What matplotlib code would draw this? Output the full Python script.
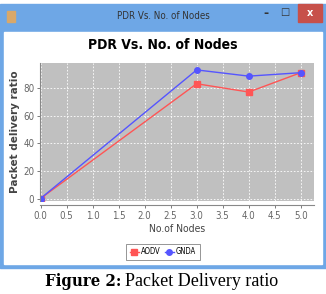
import matplotlib
matplotlib.use("Agg")
import matplotlib.pyplot as plt
from matplotlib.patches import Rectangle

# --- data ---
nodes = [0.0, 3.0, 4.0, 5.0]
aodv = [0.0, 83.0, 77.0, 91.0]
gnda = [0.0, 93.0, 88.5, 91.0]
xticks = [0.0, 0.5, 1.0, 1.5, 2.0, 2.5, 3.0, 3.5, 4.0, 4.5, 5.0]
yticks = [0, 20, 40, 60, 80]
win_title = "PDR Vs. No. of Nodes"
chart_title = "PDR Vs. No. of Nodes"

W, H = 326, 294
fig = plt.figure(figsize=(W / 100, H / 100), dpi=100)
fig.patch.set_facecolor("white")

def fx(x):
    return x / W

def fy(y):
    return 1 - y / H

def box(x0, y0, x1, y1, color, z):
    fig.patches.append(Rectangle((fx(x0), fy(y1)), (x1 - x0) / W, (y1 - y0) / H,
                                 transform=fig.transFigure, color=color, zorder=z))

blue_frame = "#6ea7e6"

# --- window frame ---
box(0, 4, 326, 268, blue_frame, 0)
box(4, 32, 322, 264, "white", 1)
box(298, 4, 322, 22, "#c7504a", 2)
box(7, 11, 15, 22, "#d9a86a", 2)
fig.text(fx(310), fy(13), "x", color="white", ha="center", va="center",
         fontsize=7, fontweight="bold", zorder=3)
fig.text(fx(285), fy(12), "\u25a1", color="#333333", ha="center", va="center",
         fontsize=7, zorder=3)
fig.text(fx(266), fy(14), "-", color="#333333", ha="center", va="center",
         fontsize=9, fontweight="bold", zorder=3)
fig.text(fx(163), fy(16), win_title, color="#333333", ha="center", va="center",
         fontsize=7, fontstretch="condensed", zorder=3)

# --- chart ---
fig.text(fx(163), fy(45), chart_title, ha="center", va="center",
         fontsize=10, fontweight="bold", fontstretch="condensed", zorder=3)

ax = fig.add_axes([fx(40), fy(201), (314.3 - 40) / W, (201 - 63) / H])
ax.set_zorder(5)
ax.set_facecolor("#c0c0c0")
ax.plot(nodes, aodv, color="#ff5555", lw=1, marker="s", ms=4, label="AODV")
ax.plot(nodes, gnda, color="#5555ff", lw=1, marker="o", ms=4, label="GNDA")
ax.set_xlim(-0.01, 5.26)
ax.set_ylim(-1.8, 98)
ax.set_xticks(xticks)
ax.set_xticklabels([f"{t:.1f}" for t in xticks])
ax.set_yticks(yticks)
ax.grid(True, color="white", lw=0.6, ls=(0, (2, 2)))
ax.set_axisbelow(True)
for s in ["top", "right"]:
    ax.spines[s].set_visible(False)
ax.spines["bottom"].set_position(("outward", 3))
ax.spines["bottom"].set_color("#888888")
ax.spines["left"].set_color("#888888")
ax.tick_params(labelsize=7, colors="#666666", length=2, width=0.6, pad=2)
for lab in ax.get_xticklabels() + ax.get_yticklabels():
    lab.set_fontstretch("condensed")
ax.set_xlabel("No.of Nodes", fontsize=7.5, color="#444444", labelpad=2,
              fontstretch="condensed")
ax.set_ylabel("Packet delivery ratio", fontsize=7.5, fontweight="bold", color="#444444",
              labelpad=2)

leg = fig.legend(loc="center", bbox_to_anchor=(fx(163), fy(252)), ncol=2,
                 frameon=True, fancybox=False, handlelength=1.2,
                 handletextpad=0.3, columnspacing=0.5, borderpad=0.45,
                 prop={"size": 5.5, "stretch": "condensed"})
leg.get_frame().set_edgecolor("#666666")
leg.get_frame().set_linewidth(0.6)
leg.set_zorder(6)

# --- caption ---
fig.text(fx(45), fy(281), "Figure 2:", ha="left", va="center", fontsize=12,
         fontweight="bold", fontstretch="condensed", family="DejaVu Serif")
fig.text(fx(125), fy(281), "Packet Delivery ratio", ha="left", va="center",
         fontsize=13, family="Liberation Serif")

fig.savefig("out.png", dpi=100)
